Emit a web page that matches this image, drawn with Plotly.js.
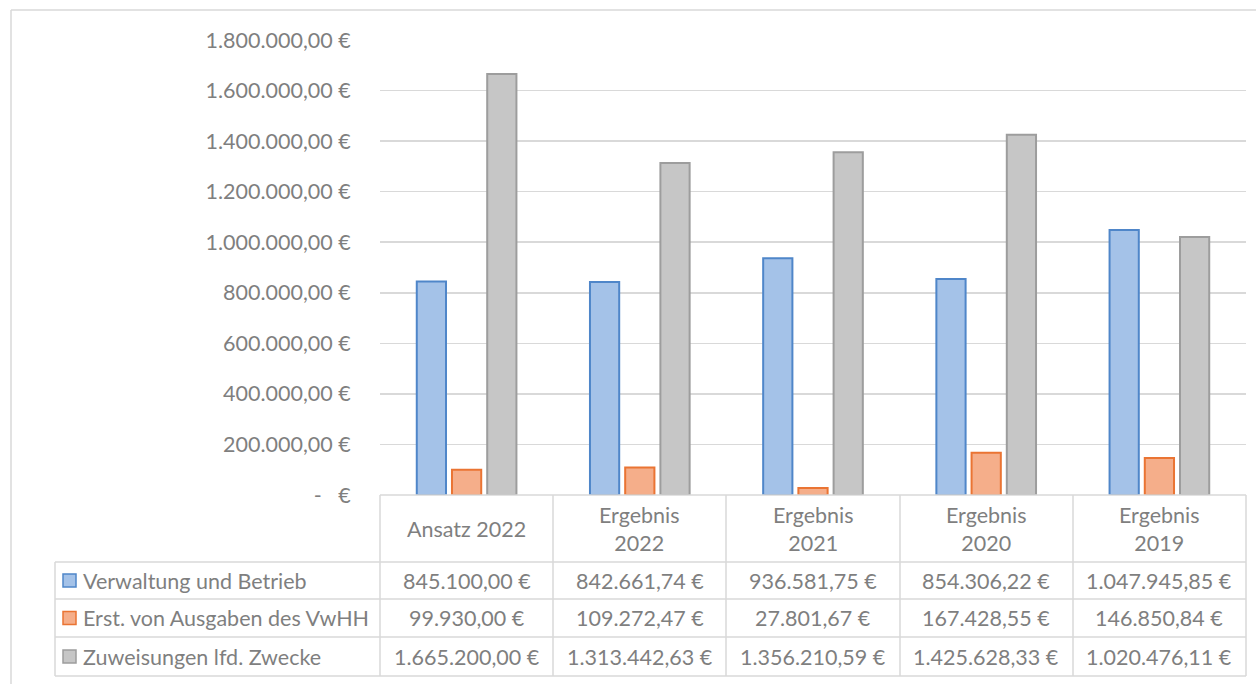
<!DOCTYPE html>
<html>
<head>
<meta charset="utf-8">
<script src="https://cdn.plot.ly/plotly-3.0.1.min.js"></script>
<style>
html,body{margin:0;padding:0;background:#fff;}
#chart{width:1256px;height:684px;}
</style>
</head>
<body>
<div id="chart"></div>
<script>
// ---- data ----
var categories = ["Ansatz 2022", "Ergebnis<br>2022", "Ergebnis<br>2021", "Ergebnis<br>2020", "Ergebnis<br>2019"];
var seriesNames = ["Verwaltung und Betrieb", "Erst. von Ausgaben des VwHH", "Zuweisungen lfd. Zwecke"];
var verwaltung = [845100.00, 842661.74, 936581.75, 854306.22, 1047945.85];
var erstattung = [99930.00, 109272.47, 27801.67, 167428.55, 146850.84];
var zuweisungen = [1665200.00, 1313442.63, 1356210.59, 1425628.33, 1020476.11];
var yTickVals = [0, 200000, 400000, 600000, 800000, 1000000, 1200000, 1400000, 1600000, 1800000];
var yTickText = ["-   €", "200.000,00 €", "400.000,00 €", "600.000,00 €", "800.000,00 €", "1.000.000,00 €", "1.200.000,00 €", "1.400.000,00 €", "1.600.000,00 €", "1.800.000,00 €"];

// ---- styling ----
var W = 1256, H = 684;
var fillColors = ["#a4c2e8", "#f5ae8a", "#c6c6c6"];
var lineColors = ["#4f86c9", "#ea7433", "#9d9d9d"];
var FONT = "Lato, 'Open Sans', sans-serif";
var textColor = "#7f7f7f";
var gridColor = "#d9d9d9";
var fs = 21.5;

function px(x){ return x / W; }
function py(y){ return 1 - y / H; }

function fmtEuro(v){
  var parts = v.toFixed(2).split(".");
  var intPart = parts[0].replace(/\B(?=(\d{3})+(?!\d))/g, ".");
  return intPart + "," + parts[1] + " €";
}

var plotL = 380, plotR = 1246, plotT = 40, plotB = 495;
var tableRows = [495, 562, 599, 637, 676];
var legendL = 55;
var colEdges = [380, 553, 726, 900, 1073, 1246];

var allSeries = [verwaltung, erstattung, zuweisungen];
var traces = allSeries.map(function(vals, i){
  return {
    type: "bar",
    name: seriesNames[i],
    x: categories,
    y: vals,
    marker: {color: fillColors[i], line: {color: lineColors[i], width: 2}},
    hoverinfo: "skip"
  };
});

var shapes = [];
var annotations = [];
// outer chart border (left and top)
shapes.push({type:"line", xref:"paper", yref:"paper", x0:px(11), x1:px(1256), y0:py(10), y1:py(10), line:{color:gridColor, width:1.5}});
shapes.push({type:"line", xref:"paper", yref:"paper", x0:px(11), x1:px(11), y0:py(10), y1:py(684), line:{color:gridColor, width:1.5}});

// table horizontal lines
tableRows.forEach(function(y, k){
  shapes.push({type:"line", xref:"paper", yref:"paper", x0:px(k === 0 ? plotL : legendL), x1:px(plotR), y0:py(y), y1:py(y), line:{color:gridColor, width:1.5}});
});
// table vertical lines
colEdges.forEach(function(x){
  shapes.push({type:"line", xref:"paper", yref:"paper", x0:px(x), x1:px(x), y0:py(tableRows[0]), y1:py(tableRows[4]), line:{color:gridColor, width:1.5}});
});
shapes.push({type:"line", xref:"paper", yref:"paper", x0:px(legendL), x1:px(legendL), y0:py(tableRows[1]), y1:py(tableRows[4]), line:{color:gridColor, width:1.5}});

// header labels
categories.forEach(function(c){
  annotations.push({xref:"x", yref:"paper", x:c, y:py((tableRows[0] + tableRows[1]) / 2), text:c, showarrow:false, xanchor:"center", yanchor:"middle", align:"center", font:{family:FONT, size:fs, color:textColor}});
});
// rows
allSeries.forEach(function(vals, i){
  var yc = (tableRows[i + 1] + tableRows[i + 2]) / 2;
  // legend key
  shapes.push({type:"rect", xref:"paper", yref:"paper", x0:px(63), x1:px(76), y0:py(yc - 6.5), y1:py(yc + 6.5), fillcolor:fillColors[i], line:{color:lineColors[i], width:1.5}});
  annotations.push({xref:"paper", yref:"paper", x:px(81), y:py(yc), text:seriesNames[i], showarrow:false, xanchor:"left", yanchor:"middle", font:{family:FONT, size:fs, color:textColor}});
  vals.forEach(function(v, j){
    annotations.push({xref:"x", yref:"paper", x:categories[j], y:py(yc), text:fmtEuro(v), showarrow:false, xanchor:"center", yanchor:"middle", font:{family:FONT, size:fs, color:textColor}});
  });
});

var layout = {
  width: W, height: H,
  margin: {l:0, r:0, t:0, b:0},
  paper_bgcolor: "#ffffff",
  plot_bgcolor: "#ffffff",
  showlegend: false,
  barmode: "group",
  bargap: 0.39,
  bargroupgap: 0.17,
  xaxis: {
    domain: [px(plotL), px(plotR)],
    type: "category",
    showticklabels: false,
    showgrid: false, zeroline: false, showline: false, ticks: ""
  },
  yaxis: {
    domain: [py(plotB), py(plotT)],
    range: [0, 1800000],
    tickvals: yTickVals,
    ticktext: yTickText,
    showgrid: true, gridcolor: gridColor, gridwidth: 1.5,
    zeroline: false, showline: false,
    ticks: "outside", ticklen: 24, tickcolor: "rgba(0,0,0,0)",
    tickfont: {family: FONT, size: fs, color: textColor}
  },
  shapes: shapes,
  annotations: annotations
};

Plotly.newPlot("chart", traces, layout, {staticPlot: true, displayModeBar: false});
</script>
</body>
</html>
